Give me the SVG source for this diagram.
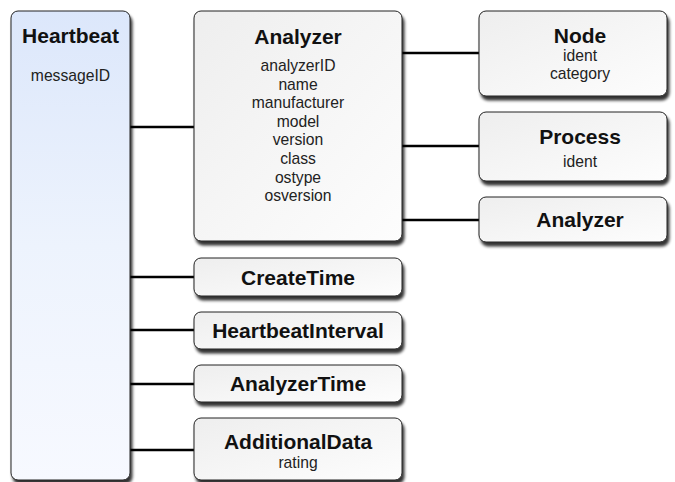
<svg xmlns="http://www.w3.org/2000/svg" width="675" height="482" viewBox="0 0 675 482">
<defs>
<linearGradient id="gBlue" x1="0" y1="0" x2="0" y2="1">
<stop offset="0" stop-color="#dce7fb"/>
<stop offset="0.5" stop-color="#edf3fd"/>
<stop offset="1" stop-color="#f7f9ff"/>
</linearGradient>
<linearGradient id="gGray" x1="0" y1="0" x2="1" y2="1">
<stop offset="0" stop-color="#eeeeee"/>
<stop offset="1" stop-color="#fdfdfd"/>
</linearGradient>
<filter id="sh" x="-10%" y="-10%" width="130%" height="130%">
<feGaussianBlur in="SourceAlpha" stdDeviation="1.6"/>
<feOffset dx="2" dy="4" result="b"/>
<feComponentTransfer><feFuncA type="linear" slope="0.8"/></feComponentTransfer>
<feMerge><feMergeNode/><feMergeNode in="SourceGraphic"/></feMerge>
</filter>
</defs>
<style>
.box{stroke:#222;stroke-width:1;filter:url(#sh);}
.gray{fill:url(#gGray);}
.blue{fill:url(#gBlue);}
.t{font-family:"Liberation Sans",Arial,Helvetica,sans-serif;font-weight:bold;font-size:21px;fill:#111;text-anchor:middle;}
.a{font-family:"Liberation Sans",Arial,Helvetica,sans-serif;font-size:15.7px;fill:#222;text-anchor:middle;}
.c{stroke:#000;stroke-width:2.5;fill:none;}
</style>
<g id="connectors">
<line class="c" x1="130" y1="127" x2="194" y2="127"/>
<line class="c" x1="130" y1="277" x2="194" y2="277"/>
<line class="c" x1="130" y1="330" x2="194" y2="330"/>
<line class="c" x1="130" y1="384" x2="194" y2="384"/>
<line class="c" x1="130" y1="450" x2="194" y2="450"/>
<line class="c" x1="402" y1="53" x2="479" y2="53"/>
<line class="c" x1="402" y1="146" x2="479" y2="146"/>
<line class="c" x1="402" y1="220" x2="479" y2="220"/>
</g>
<g id="heartbeat">
<rect class="box blue" x="11" y="11" width="119" height="469" rx="7"/>
<text class="t" x="70.5" y="43">Heartbeat</text>
<text class="a" x="70.5" y="81">messageID</text>
</g>
<g id="analyzer">
<rect class="box gray" x="194" y="11" width="208" height="230" rx="7"/>
<text class="t" x="298" y="44">Analyzer</text>
<text class="a" x="298" y="71">analyzerID</text>
<text class="a" x="298" y="89.6">name</text>
<text class="a" x="298" y="108.2">manufacturer</text>
<text class="a" x="298" y="126.8">model</text>
<text class="a" x="298" y="145.4">version</text>
<text class="a" x="298" y="164">class</text>
<text class="a" x="298" y="182.6">ostype</text>
<text class="a" x="298" y="201.2">osversion</text>
</g>
<g id="node">
<rect class="box gray" x="479" y="11" width="188" height="85" rx="7"/>
<text class="t" x="580" y="43">Node</text>
<text class="a" x="580" y="61">ident</text>
<text class="a" x="580" y="79">category</text>
</g>
<g id="process">
<rect class="box gray" x="479" y="112" width="188" height="69" rx="7"/>
<text class="t" x="580" y="144">Process</text>
<text class="a" x="580" y="167">ident</text>
</g>
<g id="analyzer2">
<rect class="box gray" x="479" y="197" width="188" height="45" rx="7"/>
<text class="t" x="580" y="227">Analyzer</text>
</g>
<g id="createtime">
<rect class="box gray" x="194" y="258" width="208" height="38" rx="7"/>
<text class="t" x="298" y="284.5">CreateTime</text>
</g>
<g id="heartbeatinterval">
<rect class="box gray" x="194" y="312" width="208" height="37" rx="7"/>
<text class="t" x="298" y="337.5">HeartbeatInterval</text>
</g>
<g id="analyzertime">
<rect class="box gray" x="194" y="365" width="208" height="37" rx="7"/>
<text class="t" x="298" y="391">AnalyzerTime</text>
</g>
<g id="additionaldata">
<rect class="box gray" x="194" y="418" width="208" height="62" rx="7"/>
<text class="t" x="298" y="449">AdditionalData</text>
<text class="a" x="298" y="468">rating</text>
</g>
</svg>
